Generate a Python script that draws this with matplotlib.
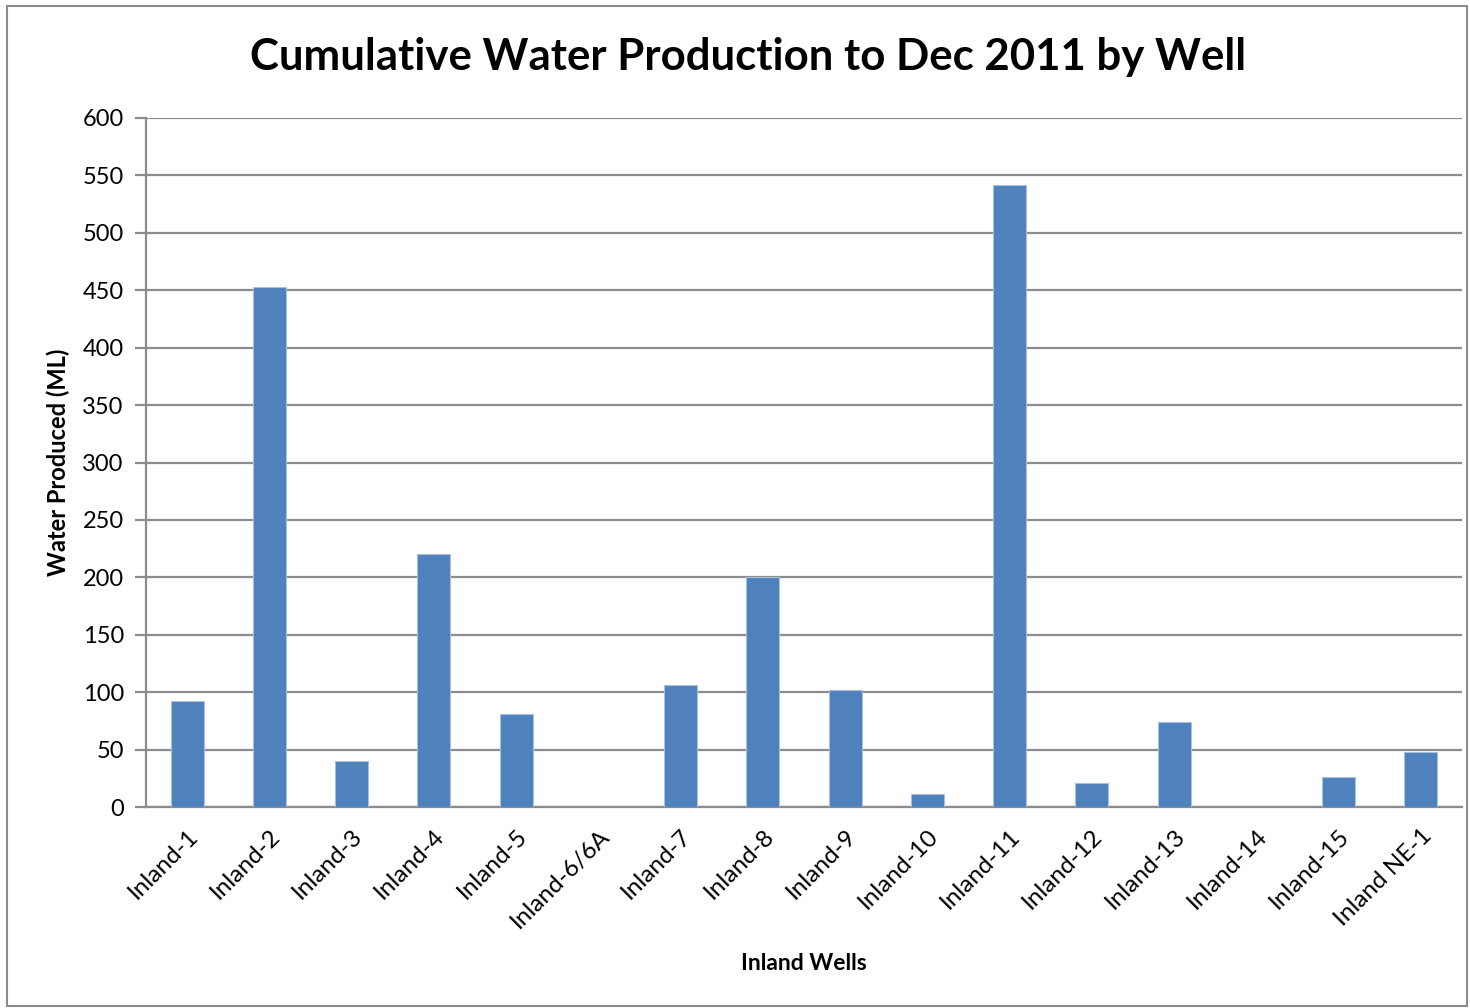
import matplotlib
matplotlib.use("Agg")
import matplotlib.pyplot as plt
from matplotlib.patches import Rectangle

# Cumulative water produced per well (ML) to Dec 2011
wells = ["Inland-1", "Inland-2", "Inland-3", "Inland-4", "Inland-5", "Inland-6/6A",
         "Inland-7", "Inland-8", "Inland-9", "Inland-10", "Inland-11", "Inland-12",
         "Inland-13", "Inland-14", "Inland-15", "Inland NE-1"]
water_ml = [92.5, 453, 40, 220.5, 81, 0,
            106, 200, 102, 11.5, 541.5, 21,
            74, 0, 26.5, 48]
y_ticks = [0, 50, 100, 150, 200, 250, 300, 350, 400, 450, 500, 550, 600]

plt.rcParams["font.family"] = ["Lato", "DejaVu Sans"]

fig = plt.figure(figsize=(14.7, 10.08), dpi=100)
ax = fig.add_axes([146 / 1470, 1 - 807 / 1008, (1462 - 146) / 1470, (807 - 118) / 1008])

# chart-area border
fig.patches.append(Rectangle((7 / 1470, 2 / 1008), (1467 - 7) / 1470, 1000 / 1008,
                             transform=fig.transFigure, fill=False,
                             edgecolor="#8c8c8c", linewidth=1.5))

x = list(range(len(wells)))
ax.bar(x, water_ml, width=0.40, color="#4f81bd", edgecolor="#a8c0de",
       linewidth=0.8, zorder=3)

ax.set_xlim(-0.5, len(wells) - 0.5)
ax.set_ylim(0, 600)
ax.set_yticks(y_ticks)
ax.yaxis.grid(True, color="#8c8c8c", linewidth=1.6, zorder=0)
ax.set_axisbelow(True)

for side in ("top", "right"):
    ax.spines[side].set_visible(False)
for side in ("left", "bottom"):
    ax.spines[side].set_color("#8c8c8c")
    ax.spines[side].set_linewidth(1.6)

ax.tick_params(axis="y", length=8, width=1.6, color="#8c8c8c",
               labelsize=17, pad=8, labelcolor="black")
ax.tick_params(axis="x", length=0, labelsize=17.5, pad=13, labelcolor="black")
ax.set_xticks(x)
ax.set_xticklabels(wells, rotation=45, ha="right", rotation_mode="anchor")

ax.set_ylabel("Water Produced (ML)", fontsize=17, fontweight="bold")
ax.yaxis.set_label_coords(-(146 - 58) / (1462 - 146), 0.5)
ax.set_xlabel("Inland Wells", fontsize=16.5, fontweight="bold", labelpad=0)
ax.xaxis.set_label_coords(0.5, -(964 - 807) / (807 - 118))
ax.xaxis.label.set_va("center")
ax.yaxis.label.set_va("center")

fig.text(0.509, 1 - 57 / 1008, "Cumulative Water Production to Dec 2011 by Well",
         ha="center", va="center", fontsize=31.5, fontweight="bold")

fig.savefig("out.png", dpi=100)
